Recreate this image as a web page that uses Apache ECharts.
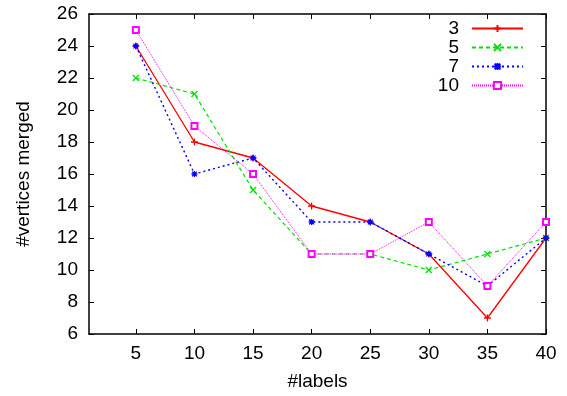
<!DOCTYPE html>
<html>
<head>
<meta charset="utf-8">
<script src="https://cdn.jsdelivr.net/npm/echarts@6/dist/echarts.min.js"></script>
<style>
  html, body { margin: 0; padding: 0; background: #fff; }
  #chart { width: 567px; height: 396px; }
</style>
</head>
<body>
<div id="chart"></div>
<script>
const labelCounts = [5, 10, 15, 20, 25, 30, 35, 40]
const yTicks = [6, 8, 10, 12, 14, 16, 18, 20, 22, 24, 26]

const series3 = [24, 18, 17, 14, 13, 11, 7, 12]
const series5 = [22, 21, 15, 11, 11, 10, 11, 12]
const series7 = [24, 16, 17, 13, 13, 11, 9, 12]
const series10 = [25, 19, 16, 11, 11, 13, 9, 13]

const FONT = 'Liberation Sans'

// gnuplot-like point types
const PLUS = 'path://M0,5L10,5M5,0L5,10'
const CROSS = 'path://M0,0L10,10M10,0L0,10'
const STAR = 'path://M0,5L10,5M5,0L5,10M1,1L9,9M9,1L1,9'

const pairs = (vals) => vals.map((v, i) => [labelCounts[i], v])

const mkSeries = (name, vals, color, lineType, symbol, size, width) => ({
  name,
  type: 'line',
  data: pairs(vals),
  symbol,
  symbolSize: size,
  showSymbol: true,
  animation: false,
  lineStyle: { color, width, type: lineType },
  itemStyle: { color, borderColor: color, borderWidth: 1.3 },
  emphasis: { disabled: true },
})

const chart = echarts.init(document.getElementById('chart'), null, { renderer: 'canvas' })

const axisLine = { show: true, lineStyle: { color: '#000', width: 1.5 } }
const tick = { show: true, inside: true, length: 5, lineStyle: { color: '#000', width: 1 } }
const tickFont = { fontFamily: FONT, fontSize: 19, color: '#000' }

chart.setOption({
  backgroundColor: '#fff',
  textStyle: { fontFamily: FONT },
  grid: { left: 89, right: 21, top: 14, bottom: 60 },
  legend: {
    orient: 'vertical',
    align: 'right',
    right: 38,
    top: 14,
    itemWidth: 51,
    itemHeight: 9,
    itemGap: 0,
    textStyle: { ...tickFont, lineHeight: 19, padding: [0, 8, 0, 0] },
    data: ['3', '5', '7', '10'],
  },
  xAxis: [
    {
      type: 'value',
      min: 1,
      max: 40,
      position: 'bottom',
      name: '#labels',
      nameLocation: 'middle',
      nameGap: 38,
      nameTextStyle: { fontFamily: FONT, fontSize: 19, color: '#000' },
      axisLine,
      axisTick: { ...tick, customValues: labelCounts },
      axisLabel: { ...tickFont, customValues: labelCounts, margin: 10 },
      splitLine: { show: false },
    },
    {
      type: 'value',
      min: 1,
      max: 40,
      position: 'top',
      axisLine,
      axisTick: { ...tick, customValues: labelCounts },
      axisLabel: { show: false },
      splitLine: { show: false },
    },
  ],
  yAxis: [
    {
      type: 'value',
      min: 6,
      max: 26,
      interval: 2,
      position: 'left',
      name: '#vertices merged',
      nameLocation: 'middle',
      nameGap: 56,
      nameTextStyle: { fontFamily: FONT, fontSize: 19, color: '#000' },
      axisLine,
      axisTick: { ...tick, customValues: yTicks },
      axisLabel: { ...tickFont, customValues: yTicks, margin: 11 },
      splitLine: { show: false },
    },
    {
      type: 'value',
      min: 6,
      max: 26,
      interval: 2,
      position: 'right',
      axisLine,
      axisTick: { ...tick, customValues: yTicks },
      axisLabel: { show: false },
      splitLine: { show: false },
    },
  ],
  series: [
    mkSeries('3', series3, '#ff0000', 'solid', PLUS, 7, 1.3),
    mkSeries('5', series5, '#00e000', [4, 3], CROSS, 6, 1.2),
    mkSeries('7', series7, '#0000ff', [2, 3], STAR, 6, 1.4),
    mkSeries('10', series10, '#ff00ff', [1, 1], 'emptyRect', 6, 1),
  ],
})
</script>
</body>
</html>
